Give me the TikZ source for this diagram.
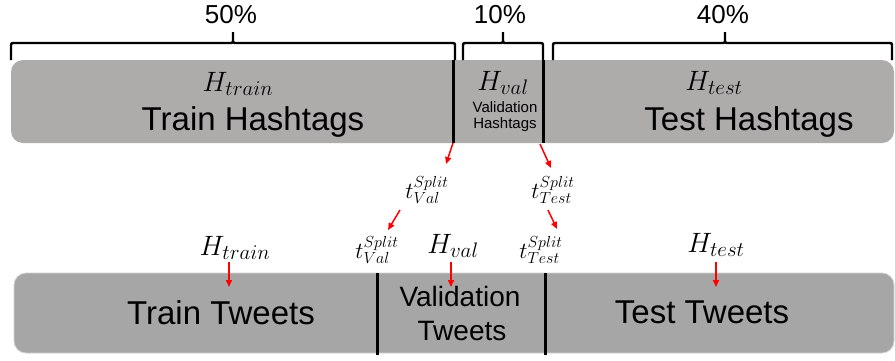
\RequirePackage{fix-cm}
\documentclass[tikz,border=0pt]{standalone}
\usepackage{fontspec}
\setmainfont{Liberation Sans}
\usetikzlibrary{arrows.meta}
\DeclareMathSizes{28}{28}{21}{16}
\DeclareMathSizes{23}{23}{16}{12}
\definecolor{topgray}{HTML}{AEABAB}
\definecolor{botgray}{HTML}{A6A6A6}
\newcommand{\fsz}[1]{\fontsize{#1}{#1}\selectfont}
\newcommand{\mybrace}[3]{%
  \draw[bracestyle] (#1,60) -- (#1,47) .. controls (#1,43) .. ({#1+4},43) -- ({#2-4},43)
    .. controls (#2,43) .. (#2,39) -- (#2,32)
    (#2,39) .. controls (#2,43) .. ({#2+4},43) -- ({#3-4},43)
    .. controls (#3,43) .. (#3,47) -- (#3,60);}
\begin{document}
\begin{tikzpicture}[x=1pt,y=-1pt,
  bracestyle/.style={line width=2.4pt, line join=round},
  divider/.style={line width=3pt},
  redarrow/.style={red, line width=1.5pt, -{Triangle[length=7pt,width=6pt]}},
  pct/.style={anchor=base, inner sep=0pt, font=\fsz{26}},
  bigtxt/.style={anchor=base, inner sep=0pt, font=\fsz{33}},
  midtxt/.style={anchor=base, inner sep=0pt, font=\fsz{28}},
  smalltxt/.style={anchor=base, inner sep=0pt, font=\fsz{15}},
  hlab/.style={anchor=base, inner sep=0pt, font=\fsz{28}},
  tlab/.style={anchor=center, inner sep=0pt, font=\fsz{23}}]
\useasboundingbox (0,0) rectangle (895,360);

% bars
\node[fill=topgray, rounded corners=12pt, minimum width=883pt, minimum height=83pt, inner sep=0pt] (topbar) at (452.5,101.5) {};
\node[fill=botgray, draw=gray!35, line width=0.8pt, rounded corners=12pt, minimum width=880pt, minimum height=80pt, inner sep=0pt] (botbar) at (454,313) {};

% dividers
\coordinate (d1a) at (453,60); \coordinate (d1b) at (453,143);
\coordinate (d2a) at (543,60); \coordinate (d2b) at (543,143);
\coordinate (d3a) at (377,273); \coordinate (d3b) at (377,355);
\coordinate (d4a) at (545,273); \coordinate (d4b) at (545,355);
\draw[divider] (d1a) -- (d1b);
\draw[divider] (d2a) -- (d2b);
\draw[divider] (d3a) -- (d3b);
\draw[divider] (d4a) -- (d4b);

% braces
\mybrace{11}{233}{455}
\mybrace{463}{503}{543}
\mybrace{553}{725}{892}

% percentages
\node[pct] (p50) at (231,23) {50\%};
\node[pct] (p10) at (500,23) {10\%};
\node[pct] (p40) at (723,23) {40\%};

% top bar texts
\node[hlab] (htrtop) at (238,91) {$H_{train}$};
\node[hlab] (hvatop) at (503,90) {$H_{val}$};
\node[hlab] (htetop) at (714,90) {$H_{test}$};
\node[bigtxt] (trainhash) at (253,130) {Train Hashtags};
\node[smalltxt] (valhash1) at (505,112) {Validation};
\node[smalltxt] (valhash2) at (505,128) {Hashtags};
\node[bigtxt] (testhash) at (749,130) {Test Hashtags};

% middle split labels
\node[tlab] (tval1) at (427,190) {$t^{Split}_{Val}$};
\node[tlab] (ttest1) at (553,190) {$t^{Split}_{Test}$};
\node[tlab] (tval2) at (377,250) {$t^{Split}_{Val}$};
\node[tlab] (ttest2) at (541,250) {$t^{Split}_{Test}$};

% bottom labels
\node[hlab] (htrbot) at (235,255) {$H_{train}$};
\node[hlab] (hvabot) at (453,253) {$H_{val}$};
\node[hlab] (htebot) at (716,252) {$H_{test}$};

% bottom bar texts
\node[bigtxt] (traintw) at (221,324) {Train Tweets};
\node[midtxt] (valtw1) at (460,306) {Validation};
\node[midtxt] (valtw2) at (462,340) {Tweets};
\node[bigtxt] (testtw) at (702,323) {Test Tweets};

% arrow coordinates
\coordinate (a1s) at (453,143); \coordinate (a1e) at (446,164);
\coordinate (a2s) at (400,210); \coordinate (a2e) at (388,230);
\coordinate (a3s) at (540,144); \coordinate (a3e) at (551,168);
\coordinate (a4s) at (548,210); \coordinate (a4e) at (557,229);
\coordinate (b1s) at (229,262); \coordinate (b1e) at (229,287);
\coordinate (b2s) at (451,262); \coordinate (b2e) at (451,287);
\coordinate (b3s) at (716,262); \coordinate (b3e) at (716,287);
\draw[redarrow] (a1s) -- (a1e);
\draw[redarrow] (a2s) -- (a2e);
\draw[redarrow] (a3s) -- (a3e);
\draw[redarrow] (a4s) -- (a4e);
\draw[redarrow] (b1s) -- (b1e);
\draw[redarrow] (b2s) -- (b2e);
\draw[redarrow] (b3s) -- (b3e);
\end{tikzpicture}
\end{document}
